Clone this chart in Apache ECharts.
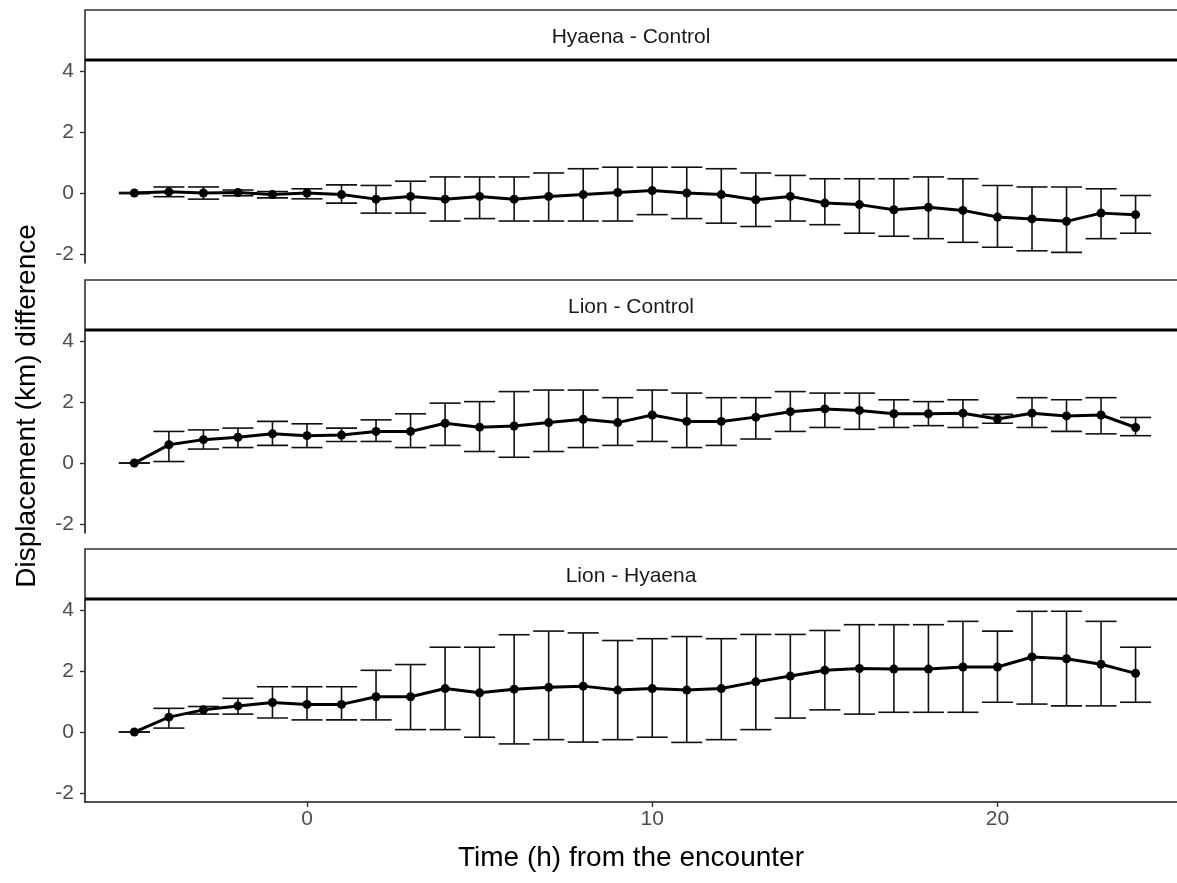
<!DOCTYPE html>
<html>
<head>
<meta charset="utf-8">
<script src="https://cdn.jsdelivr.net/npm/echarts@6/dist/echarts.min.js"></script>
<style>
  html, body { margin: 0; padding: 0; background: #fff; }
  #chart { width: 1177px; height: 883px; }
</style>
</head>
<body>
<div id="chart"></div>
<script>
// hours from the encounter
var hours = [-5, -4, -3, -2, -1, 0, 1, 2, 3, 4, 5, 6, 7, 8, 9, 10, 11, 12, 13, 14, 15, 16, 17, 18, 19, 20, 21, 22, 23, 24];

// Hyaena - Control
var hcMean = [0.0, 0.04, 0.0, 0.02, -0.05, 0.0, -0.05, -0.2, -0.11, -0.2, -0.11, -0.2, -0.11, -0.05, 0.02, 0.08, 0.0, -0.05, -0.22, -0.11, -0.33, -0.38, -0.55, -0.47, -0.57, -0.79, -0.85, -0.93, -0.66, -0.71];
var hcLow  = [-0.02, -0.12, -0.2, -0.09, -0.16, -0.19, -0.33, -0.66, -0.66, -0.92, -0.84, -0.92, -0.92, -0.92, -0.92, -0.71, -0.84, -0.99, -1.1, -0.92, -1.04, -1.32, -1.42, -1.5, -1.62, -1.78, -1.9, -1.95, -1.5, -1.32];
var hcHigh = [0.02, 0.2, 0.2, 0.1, 0.05, 0.14, 0.27, 0.25, 0.39, 0.53, 0.53, 0.53, 0.66, 0.8, 0.85, 0.85, 0.85, 0.8, 0.66, 0.58, 0.47, 0.47, 0.47, 0.53, 0.47, 0.25, 0.2, 0.2, 0.14, -0.08];

// Lion - Control
var lcMean = [0.0, 0.6, 0.77, 0.85, 0.96, 0.9, 0.92, 1.04, 1.04, 1.31, 1.18, 1.22, 1.33, 1.44, 1.33, 1.58, 1.37, 1.37, 1.51, 1.69, 1.78, 1.73, 1.62, 1.62, 1.64, 1.45, 1.64, 1.55, 1.58, 1.17];
var lcLow  = [0.0, 0.05, 0.46, 0.51, 0.58, 0.51, 0.71, 0.71, 0.51, 0.58, 0.38, 0.19, 0.38, 0.51, 0.58, 0.71, 0.51, 0.58, 0.79, 1.04, 1.17, 1.11, 1.17, 1.23, 1.17, 1.31, 1.17, 1.04, 0.96, 0.9];
var lcHigh = [0.0, 1.04, 1.09, 1.15, 1.37, 1.29, 1.15, 1.42, 1.62, 1.97, 2.02, 2.35, 2.4, 2.4, 2.15, 2.4, 2.3, 2.15, 2.15, 2.35, 2.3, 2.3, 2.08, 2.02, 2.08, 1.6, 2.15, 2.08, 2.15, 1.5];

// Lion - Hyaena
var lhMean = [0.0, 0.49, 0.73, 0.86, 0.97, 0.91, 0.91, 1.16, 1.16, 1.43, 1.29, 1.41, 1.47, 1.51, 1.38, 1.43, 1.38, 1.43, 1.65, 1.84, 2.03, 2.09, 2.07, 2.07, 2.14, 2.14, 2.47, 2.41, 2.23, 1.93];
var lhLow  = [0.0, 0.13, 0.59, 0.59, 0.46, 0.4, 0.4, 0.4, 0.08, 0.08, -0.17, -0.39, -0.25, -0.33, -0.25, -0.17, -0.34, -0.25, 0.08, 0.46, 0.73, 0.59, 0.65, 0.65, 0.65, 0.98, 0.92, 0.86, 0.86, 0.98];
var lhHigh = [0.0, 0.78, 0.84, 1.11, 1.49, 1.49, 1.49, 2.03, 2.22, 2.79, 2.79, 3.2, 3.32, 3.26, 3.01, 3.07, 3.14, 3.07, 3.21, 3.21, 3.34, 3.53, 3.53, 3.53, 3.64, 3.32, 3.97, 3.97, 3.64, 2.79];

var panelNames = ["Hyaena - Control", "Lion - Control", "Lion - Hyaena"];
var xTicks = [0, 10, 20];
var yTicks = [-2, 0, 2, 4];

var panels = [
  { mean: hcMean, low: hcLow, high: hcHigh },
  { mean: lcMean, low: lcLow, high: lcHigh },
  { mean: lhMean, low: lhLow, high: lhHigh }
];

var fontFam = "Liberation Sans, Arial, sans-serif";
var gridLeft = 85;
var gridTops = [60, 330, 599];
var gridH = 203;
var capHalf = 0.45; // half width of error bar caps, in hours

var chart = echarts.init(document.getElementById("chart"));

function renderErr(params, api) {
  var x = api.value(0);
  var lo = api.value(1);
  var hi = api.value(2);
  var pLo = api.coord([x, lo]);
  var pHi = api.coord([x, hi]);
  var l = api.coord([x - capHalf, hi]);
  var r = api.coord([x + capHalf, hi]);
  var st = { stroke: "#111", lineWidth: 1.6 };
  return {
    type: "group",
    children: [
      { type: "line", shape: { x1: pLo[0], y1: pLo[1], x2: pHi[0], y2: pHi[1] }, style: st },
      { type: "line", shape: { x1: l[0], y1: pHi[1], x2: r[0], y2: pHi[1] }, style: st },
      { type: "line", shape: { x1: l[0], y1: pLo[1], x2: r[0], y2: pLo[1] }, style: st }
    ]
  };
}

var grids = [], xAxes = [], yAxes = [], series = [], graphics = [];

panels.forEach(function (p, i) {
  grids.push({ left: gridLeft, right: 0, top: gridTops[i], height: gridH });
  var last = i === panels.length - 1;
  xAxes.push({
    gridIndex: i,
    type: "value",
    min: -6.43,
    max: 25.2,
    splitLine: { show: false },
    axisLine: { show: last, onZero: false, lineStyle: { color: "#1a1a1a", width: 1.6 } },
    axisTick: { show: last, length: 5, customValues: xTicks, lineStyle: { color: "#333", width: 1.4 } },
    axisLabel: { show: last, customValues: xTicks, color: "#4d4d4d", fontSize: 21, fontFamily: fontFam, margin: 7 },
    name: last ? "Time (h) from the encounter" : "",
    nameLocation: "middle",
    nameGap: 42,
    nameTextStyle: { color: "#000", fontSize: 28, fontFamily: fontFam }
  });
  yAxes.push({
    gridIndex: i,
    type: "value",
    min: -2.3,
    max: 4.375,
    splitLine: { show: false },
    axisLine: { show: true, onZero: false, lineStyle: { color: "#1a1a1a", width: 1.6 } },
    axisTick: { show: true, length: 5, customValues: yTicks, lineStyle: { color: "#333", width: 1.4 } },
    axisLabel: { customValues: yTicks, color: "#4d4d4d", fontSize: 21, fontFamily: fontFam, margin: 11 }
  });

  var errData = hours.map(function (h, k) { return [h, p.low[k], p.high[k]]; });
  var lineData = hours.map(function (h, k) { return [h, p.mean[k]]; });

  series.push({
    type: "custom",
    xAxisIndex: i,
    yAxisIndex: i,
    renderItem: renderErr,
    encode: { x: 0, y: [1, 2] },
    data: errData,
    silent: true,
    z: 2
  });
  series.push({
    type: "line",
    xAxisIndex: i,
    yAxisIndex: i,
    data: lineData,
    symbol: "circle",
    symbolSize: 9,
    itemStyle: { color: "#000" },
    lineStyle: { color: "#000", width: 3 },
    animation: false,
    silent: true,
    z: 3
  });

  // strip header above each panel
  var top = gridTops[i];
  graphics.push({
    type: "rect",
    shape: { x: gridLeft, y: top - 50, width: 1120, height: 50 },
    style: { fill: "#fff", stroke: "#333", lineWidth: 1.6 },
    z: 10
  });
  graphics.push({
    type: "line",
    shape: { x1: gridLeft, y1: top, x2: 1190, y2: top },
    style: { stroke: "#000", lineWidth: 3 },
    z: 11
  });
  graphics.push({
    type: "text",
    x: (gridLeft + 1177) / 2,
    y: top - 23,
    style: {
      text: panelNames[i],
      fill: "#1a1a1a",
      font: "21px " + fontFam,
      textAlign: "center",
      textVerticalAlign: "middle"
    },
    z: 12
  });
});

graphics.push({
  type: "text",
  x: 27,
  y: 406,
  rotation: Math.PI / 2,
  style: {
    text: "Displacement (km) difference",
    fill: "#000",
    font: "28px " + fontFam,
    textAlign: "center",
    textVerticalAlign: "middle"
  }
});

chart.setOption({
  animation: false,
  backgroundColor: "#fff",
  grid: grids,
  xAxis: xAxes,
  yAxis: yAxes,
  series: series,
  graphic: graphics
});
</script>
</body>
</html>
